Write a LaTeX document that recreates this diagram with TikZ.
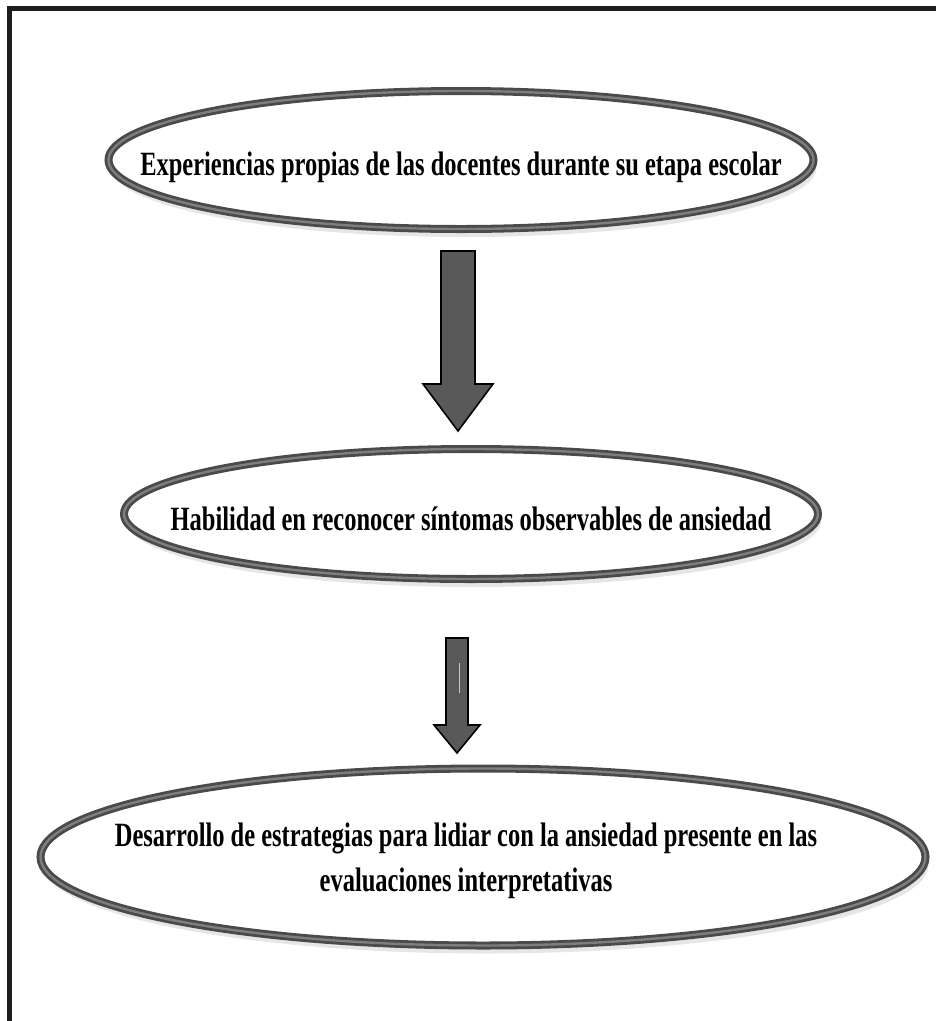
\documentclass[tikz,border=0pt]{standalone}
\usepackage{fontspec}
\setmainfont{Liberation Serif}
\newfontfamily\narrowfont{Liberation Serif}[FakeStretch=0.72]
\usepackage{tikz}
\usetikzlibrary{shapes.geometric}
\usetikzlibrary{shadows}

\definecolor{framegray}{HTML}{1E1E1E}
\definecolor{ringgray}{HTML}{4A4A4A}
\definecolor{ringlight}{HTML}{7E7E7E}
\definecolor{arrowgray}{HTML}{595959}

\tikzset{
    ring/.style={ellipse, draw=ringgray, line width=8pt, fill=white, inner sep=0pt,
        drop shadow={shadow xshift=3pt, shadow yshift=-8pt, opacity=0.2},
        postaction={draw=ringlight, line width=2.4pt}},
    ringtext/.style={inner sep=0pt, align=center,
        font=\narrowfont\bfseries\fontsize{34}{45}\selectfont},
    blockarrow/.style={draw=black, line width=1.6pt, fill=arrowgray, line join=miter}
}

\begin{document}
\begin{tikzpicture}[x=1pt, y=-1pt]
        \useasboundingbox (0,0) rectangle (936,1021);
        % frame, only top and left side
        \draw[framegray, line width=5pt] (936,8.5) -- (9.5,8.5) -- (9.5,1021);

        \node[ring, minimum width=705pt, minimum height=138pt] (exper) at (461,160) {};
        \node[ringtext, yshift=-7pt] (experlbl) at (exper.center)
            {Experiencias propias de las docentes durante su etapa escolar};
        \node[ring, minimum width=694pt, minimum height=130pt] (habil) at (471,514) {};
        \node[ringtext, yshift=-5pt] (habillbl) at (habil.center)
            {Habilidad en reconocer síntomas observables de ansiedad};
        \node[ring, minimum width=885pt, minimum height=177pt] (desar) at (483,857) {};
        \node[ringtext, xshift=-17pt, yshift=-4pt] (desarlbl) at (desar.center)
            {Desarrollo de estrategias para lidiar con la ansiedad presente en las\\evaluaciones interpretativas};

        \coordinate (arr1) at (458,251);
        \coordinate (arr2) at (457,638);

        \draw[blockarrow] (arr1) ++(-17,0) -- ++(34,0) -- ++(0,133) -- ++(18,0)
            -- ++(-35,47) -- ++(-35,-47) -- ++(18,0) -- cycle;
        \draw[blockarrow] (arr2) ++(-11,0) -- ++(22,0) -- ++(0,87) -- ++(12,0)
            -- ++(-23,28) -- ++(-23,-28) -- ++(12,0) -- cycle;
        \draw[gray!45, line width=0.8pt] (arr2) ++(2,25) -- ++(0,30);
    \end{tikzpicture}
\end{document}
